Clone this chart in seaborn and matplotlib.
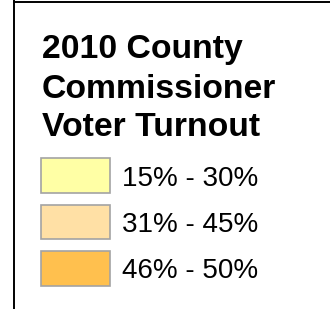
import numpy as np
import pandas as pd
import matplotlib
matplotlib.use("Agg")
import matplotlib.pyplot as plt
from matplotlib.lines import Line2D
import seaborn as sns

# legend content
title_lines = ["2010 County", "Commissioner", "Voter Turnout"]
labels = ["15% - 30%", "31% - 45%", "46% - 50%"]
colors = ["#FFFFA5", "#FFE0A5", "#FFC04E"]

sns.set_style("white")
plt.rcParams["font.family"] = ["Liberation Sans", "DejaVu Sans"]
plt.rcParams["text.color"] = "black"

W, H = 330, 309
fig = plt.figure(figsize=(W / 100, H / 100), dpi=100)

# frame: top and left rules
fig.add_artist(Line2D([14 / W, 1], [1 - 1.5 / H, 1 - 1.5 / H], color="black", lw=1.4))
fig.add_artist(Line2D([14 / W, 14 / W], [0, 1], color="black", lw=1.4))

# title, one line at a time (baselines in px from top)
for line, base in zip(title_lines, [58, 98.5, 136.5]):
    fig.text(42 / W, 1 - base / H, line, fontsize=24.3, fontweight="bold",
             color="black", va="baseline", ha="left")

# swatches drawn as bars
df = pd.DataFrame({"label": labels, "size": np.ones(len(labels))})
ax = fig.add_axes([41 / W, (H - 291.5) / H, 69 / W, 139 / H])
sns.barplot(data=df, x="size", y="label", hue="label", palette=colors, orient="h",
            saturation=1, width=0.75, edgecolor="#A3A3A3", linewidth=1.2,
            legend=False, ax=ax)
for p in ax.patches:
    p.set_clip_on(False)
ax.set_xlim(0, 1)
ax.set_ylim(2.5, -0.5)
ax.set_xlabel("")
ax.set_ylabel("")
ax.set_xticks([])
ax.yaxis.tick_right()
ax.tick_params(axis="y", length=0, pad=9, labelsize=20, labelcolor="black")
for s in ax.spines.values():
    s.set_visible(False)
ax.patch.set_alpha(0)

fig.savefig("out.png", dpi=100)
